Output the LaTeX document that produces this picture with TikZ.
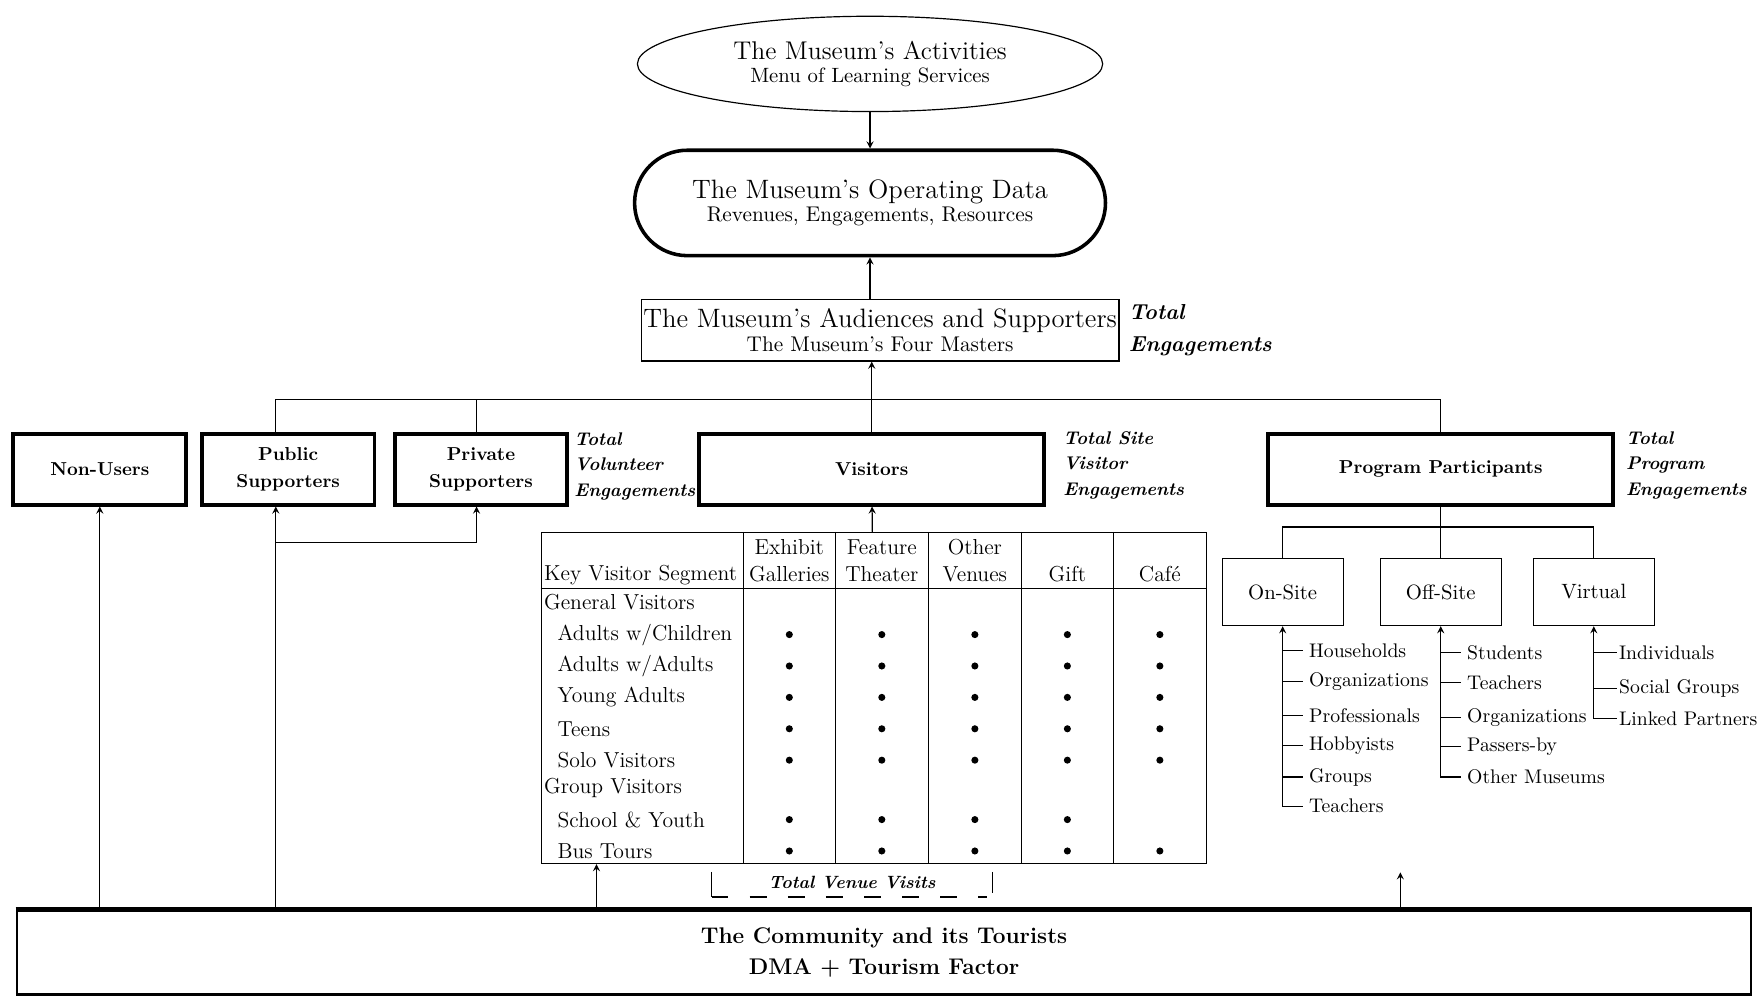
\documentclass[tikz,border=0pt]{standalone}
\usetikzlibrary{shapes.geometric,positioning}
\begin{document}
\begin{tikzpicture}[
    heavy/.style={draw, line width=2pt, minimum width=3.08cm, minimum height=1.26cm, align=center, font=\fontsize{9.5}{13.5}\selectfont\bfseries},
    plain/.style={draw, line width=0.6pt, align=center},
    arrow/.style={->, >=stealth, line width=0.6pt},
    total/.style={anchor=west, align=left, inner sep=0pt, font=\fontsize{9.3}{12.8}\selectfont\bfseries\itshape},
    cell/.style={anchor=west, inner sep=0pt, font=\fontsize{11}{13}\selectfont},
    head/.style={align=center, inner sep=0pt, font=\fontsize{11}{13.5}\selectfont},
    item/.style={anchor=west, inner sep=3pt, font=\fontsize{10}{12}\selectfont}
]
    \useasboundingbox (0,0) rectangle (31.36,-17.78);

    % Activitati, date, public
    \node[plain, ellipse, minimum width=8.3cm, minimum height=1.7cm, inner sep=0pt] (act) at (15.52,-1.14)
        {{\fontsize{13}{15}\selectfont The Museum's Activities}\\{\fontsize{10.5}{12}\selectfont Menu of Learning Services}};
    \node[plain, line width=1.8pt, rounded corners=0.94cm, minimum width=8.4cm, minimum height=1.88cm] (ops) at (15.52,-3.62)
        {{\fontsize{13.5}{15}\selectfont The Museum's Operating Data}\\{\fontsize{10.8}{12}\selectfont Revenues, Engagements, Resources}};
    \node[plain, minimum width=8.4cm, minimum height=1.1cm, inner sep=1pt] (aud) at (15.7,-5.89)
        {{\fontsize{13.5}{15}\selectfont The Museum's Audiences and Supporters}\\{\fontsize{10.8}{12}\selectfont The Museum's Four Masters}};
    \node[total, font=\fontsize{11}{16}\selectfont\bfseries\itshape, right=0.16cm of aud] (totaleng) {Total\\Engagements};

    % Cei patru stapani
    \node[heavy] (nonusers) at (1.78,-8.37) {Non-Users};
    \node[heavy] (pubsup) at (5.14,-8.37) {Public\\Supporters};
    \node[heavy] (privsup) at (8.58,-8.37) {Private\\Supporters};
    \node[heavy, minimum width=6.16cm] (visitors) at (15.55,-8.37) {Visitors};
    \node[heavy, minimum width=6.16cm] (prog) at (25.7,-8.37) {Program Participants};
    \node[total] (totalvol) at (10.24,-8.32) {Total\\Volunteer\\Engagements};
    \node[total] (totalsite) at (18.96,-8.3) {Total Site\\Visitor\\Engagements};
    \node[total] (totalprog) at (29.0,-8.3) {Total\\Program\\Engagements};

    % Comunitatea
    \node[draw, line width=1.2pt, minimum width=30.94cm, minimum height=1.5cm, align=center,
        font=\fontsize{11.5}{16}\selectfont\bfseries] (community) at (15.77,-16.99)
        {The Community and its Tourists\\DMA + Tourism Factor};
    \draw[line width=2.4pt] (community.north west) -- (community.north east);

    % Tabelul vizitatorilor
    \node[draw, line width=0.8pt, minimum width=11.86cm, minimum height=5.9cm] (tbl) at (15.59,-12.45) {};
    \draw[line width=0.8pt] (tbl.west |- 0,-10.5) -- (tbl.east |- 0,-10.5);
    \foreach \cx in {13.26,14.9,16.56,18.22,19.86}
        \draw[line width=0.8pt] (\cx,0 |- tbl.north) -- (\cx,0 |- tbl.south);
    \node[cell] (keyseg) at (9.7,-10.26) {Key Visitor Segment};
    \node[head] (hexh) at (14.08,-10.0) {Exhibit\\Galleries};
    \node[head] (hfeat) at (15.73,-10.0) {Feature\\Theater};
    \node[head] (hother) at (17.39,-10.0) {Other\\Venues};
    \node[head] (hgift) at (19.04,-10.24) {Gift};
    \node[head] (hcafe) at (20.69,-10.24) {Café};
    \node[cell] (rgen) at (9.7,-10.74) {General Visitors};
    \node[cell] (rkids) at (9.94,-11.32) {Adults w/Children};
    \node[cell] (radults) at (9.94,-11.88) {Adults w/Adults};
    \node[cell] (ryoung) at (9.94,-12.44) {Young Adults};
    \node[cell] (rteens) at (9.94,-13.0) {Teens};
    \node[cell] (rsolo) at (9.94,-13.56) {Solo Visitors};
    \node[cell] (rgroup) at (9.7,-14.06) {Group Visitors};
    \node[cell] (rschool) at (9.94,-14.62) {School \& Youth};
    \node[cell] (rbus) at (9.94,-15.18) {Bus Tours};
    \foreach \y in {-11.32,-11.88,-12.44,-13.0,-13.56,-15.18}
        \foreach \x in {14.08,15.73,17.39,19.04,20.69}
            \fill (\x,\y) circle (1.8pt);
    \foreach \x in {14.08,15.73,17.39,19.04}
        \fill (\x,-14.62) circle (1.8pt);

    \node[inner sep=0pt, minimum width=5cm, minimum height=0.44cm, font=\fontsize{9}{11}\selectfont\bfseries\itshape] (venue) at (15.2,-15.78) {\raisebox{2.5pt}{Total Venue Visits}};
    \draw[line width=0.6pt] (venue.north west) -- (venue.south west);
    \draw[line width=0.6pt] (venue.north east) -- ([yshift=0.08cm]venue.south east);
    \draw[line width=1pt, dash pattern=on 0.3cm off 0.38cm] (venue.south west) -- ([xshift=-0.1cm]venue.south east);

    % Participanti la programe
    \node[plain, minimum width=2.16cm, minimum height=1.2cm, font=\fontsize{10.5}{12}\selectfont] (onsite) at (22.88,-10.56) {On-Site};
    \node[plain, minimum width=2.16cm, minimum height=1.2cm, font=\fontsize{10.5}{12}\selectfont] (offsite) at (25.7,-10.56) {Off-Site};
    \node[plain, minimum width=2.16cm, minimum height=1.2cm, font=\fontsize{10.5}{12}\selectfont] (virtual) at (28.43,-10.56) {Virtual};

    \node[item] (on1) at (23.24,-11.6) {Households};
    \node[item] (on2) at (23.24,-12.16) {Organizations};
    \node[item] (on3) at (23.24,-12.76) {Professionals};
    \node[item] (on4) at (23.24,-13.3) {Hobbyists};
    \node[item] (on5) at (23.24,-13.86) {Groups};
    \node[item] (on6) at (23.24,-14.38) {Teachers};
    \node[item] (off1) at (26.06,-11.64) {Students};
    \node[item] (off2) at (26.06,-12.18) {Teachers};
    \node[item] (off3) at (26.06,-12.8) {Organizations};
    \node[item] (off4) at (26.06,-13.32) {Passers-by};
    \node[item] (off5) at (26.06,-13.86) {Other Museums};
    \node[item, inner sep=1pt] (vir1) at (28.84,-11.64) {Individuals};
    \node[item, inner sep=1pt] (vir2) at (28.84,-12.28) {Social Groups};
    \node[item, inner sep=1pt] (vir3) at (28.84,-12.82) {Linked Partners};

    % Legaturi in sus
    \coordinate (bus) at (15.55,-7.12);
    \coordinate (split) at (4.92,-9.68);
    \coordinate (fork) at (25.7,-9.4);
    \coordinate (reach) at (24.98,-15.56);

    \draw[arrow] (act) -- (ops);
    \draw[arrow] (aud.north -| ops) -- (ops);
    \draw[arrow] (visitors) -- (visitors |- aud.south);
    \draw[line width=0.6pt] (split |- pubsup.north) |- (bus) -| (prog);
    \draw[line width=0.6pt] ([xshift=-0.08cm]privsup.north) |- (bus);
    \draw[arrow] (tbl) -- (visitors);

    \draw[arrow] (community.north -| nonusers) -- (nonusers);
    \draw[arrow] (community.north -| split) -- (split |- pubsup.south);
    \draw[arrow] (split) -| ([xshift=-0.08cm]privsup.south);
    \draw[arrow] (community.north -| 10.64,0) -- (tbl.south -| 10.64,0);
    \draw[arrow] (community.north -| reach) -- (reach);

    \draw[line width=0.6pt] (prog) -- (offsite);
    \draw[line width=0.6pt] (onsite) |- (fork) -| (virtual);
    \draw[arrow] (on6.west) -| (onsite);
    \foreach \i in {1,...,5}
        \draw[line width=0.6pt] (on\i.west) -- (on\i.west -| onsite);
    \draw[arrow] (off5.west) -| (offsite);
    \foreach \i in {1,...,4}
        \draw[line width=0.6pt] (off\i.west) -- (off\i.west -| offsite);
    \draw[arrow] (vir3.west) -| (virtual);
    \foreach \i in {1,2}
        \draw[line width=0.6pt] (vir\i.west) -- (vir\i.west -| virtual);
\end{tikzpicture}
\end{document}
